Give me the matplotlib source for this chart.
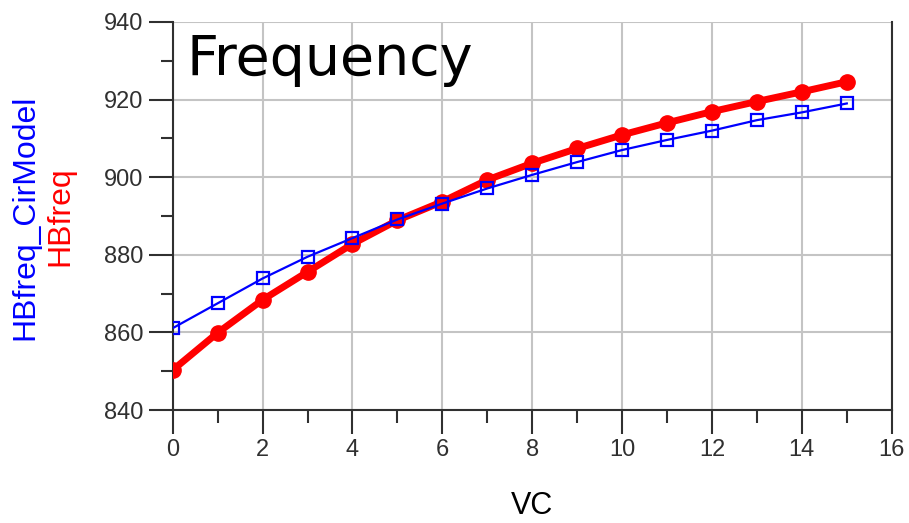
import matplotlib
matplotlib.use("Agg")
import matplotlib.pyplot as plt
from matplotlib.ticker import MultipleLocator

# values
vc = list(range(16))
hbfreq = [850.3, 859.9, 868.4, 875.6, 882.8, 888.9, 893.7, 899.3,
          903.6, 907.4, 910.9, 914.0, 916.9, 919.5, 922.0, 924.6]
hbfreq_cir = [861.1, 867.5, 873.9, 879.5, 884.3, 889.1, 893.2, 897.1,
              900.6, 903.9, 907.0, 909.6, 912.0, 914.7, 916.7, 919.0]
x_ticks = [0, 2, 4, 6, 8, 10, 12, 14, 16]
y_ticks = [840, 860, 880, 900, 920, 940]

label_font = ["Liberation Sans", "DejaVu Sans"]

fig = plt.figure(figsize=(9.09, 5.23), dpi=100)
ax = fig.add_axes([0.190, 0.216, 0.791, 0.742])

ax.plot(vc, hbfreq, color="red", lw=5, marker="o", ms=11, zorder=3)
ax.plot(vc, hbfreq_cir, color="blue", lw=1.6, marker="s", ms=8,
        mfc="none", mew=1.6, zorder=4)

ax.set_xlim(0, 16)
ax.set_ylim(840, 940)
ax.set_xticks(x_ticks)
ax.set_yticks(y_ticks)
ax.xaxis.set_minor_locator(MultipleLocator(1))
ax.yaxis.set_minor_locator(MultipleLocator(10))
ax.grid(True, which="major", color="#c4c4c4", lw=1.5)
ax.set_axisbelow(True)

ax.spines["top"].set_visible(False)
for s in ["left", "bottom", "right"]:
    ax.spines[s].set_linewidth(1.5)
    ax.spines[s].set_color("#303030")

ax.tick_params(which="major", direction="out", length=17, width=1.5,
               pad=4, color="#303030")
ax.tick_params(which="minor", direction="out", length=9, width=1.5,
               color="#303030")
for lab in ax.get_xticklabels() + ax.get_yticklabels():
    lab.set_family(label_font)
    lab.set_fontsize(17)
    lab.set_color("#303030")

ax.text(0.019, 0.972, "Frequency", transform=ax.transAxes, fontsize=40,
        family=["DejaVu Sans"], ha="left", va="top")

fig.text(532 / 909, 1 - 506 / 523, "VC", fontsize=22, family=label_font,
         ha="center", va="center")
fig.text(25 / 909, 1 - 217 / 523, "HBfreq_CirModel", color="blue",
         rotation=90, fontsize=23, family=label_font, ha="center",
         va="center")
fig.text(60 / 909, 1 - 216 / 523, "HBfreq", color="red", rotation=90,
         fontsize=23, family=label_font, ha="center", va="center")

fig.savefig("out.png", dpi=100)
